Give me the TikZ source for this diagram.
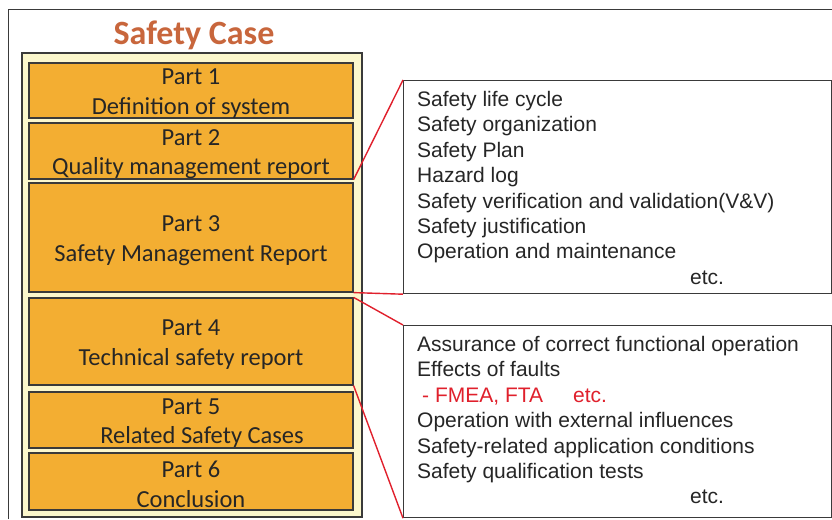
\documentclass[tikz,border=0pt]{standalone}
\usepackage{fontspec}
\setmainfont{Carlito}
\newfontfamily\arialfont{Liberation Sans}
\usepackage{xcolor}
\definecolor{partorange}{HTML}{F3AE32}
\definecolor{casecream}{HTML}{FBF7CC}
\definecolor{titlebrown}{HTML}{C8663C}
\definecolor{linkred}{HTML}{E0202C}
\definecolor{framegray}{HTML}{3A3A3A}
\tikzset{partbox/.style={draw=framegray,line width=1.2pt,fill=partorange,minimum width=324pt,inner sep=0pt},
 parttext/.style={align=center,font=\fontsize{24.5pt}{29.5pt}\selectfont,text=black!85,inner sep=0pt},
 caseframe/.style={draw=framegray,line width=2pt,fill=casecream,minimum width=340pt,minimum height=464pt},
 detailbox/.style={draw=framegray,line width=1.2pt,fill=white,minimum width=428pt,anchor=north west},
 detailtext/.style={align=left,anchor=north west,inner sep=0pt,text=black!85,
  font=\arialfont\fontsize{21pt}{25.4pt}\selectfont},
 link/.style={draw=linkred,line width=1.4pt},
 }

\begin{document}
\begin{tikzpicture}[x=1pt,y=-1pt]
        \useasboundingbox (0,0) rectangle (832,519);
        \draw[framegray,line width=1pt] (8,519) -- (8,10) -- (832,10);
        \node[font=\bfseries\fontsize{34pt}{34pt}\selectfont,text=titlebrown] (title) at (194,35) {Safety Case};
        \node[caseframe] (case) at (192,285) {};
        \foreach \n/\y/\h/\txt in {1/90.5/55/{Part 1\\Definition of system},
                2/151/56/{Part 2\\Quality management report},
                3/237.5/109/{Part 3\\Safety Management Report},
                4/341.5/87/{Part 4\\Technical safety report},
                5/420/56/{Part 5\\\hspace*{0.9em}Related Safety Cases},
                6/481.5/57/{Part 6\\Conclusion}} {
            \node[partbox,minimum height=\h pt] (part\n) at (191,\y) {};
            \node[parttext] (label\n) at ([yshift=-3pt]part\n.center) {\txt};
        }
        \node[detailbox,minimum height=213pt] (det1) at (403,80) {};
        \node[detailbox,minimum height=192pt] (det2) at (403,325) {};
        \node[detailtext] (list1) at (417,91) {Safety life cycle\\Safety organization\\Safety Plan\\Hazard log\\
            Safety verification and validation(V\&V)\\Safety justification\\Operation and maintenance\\
            \hspace*{273pt}etc.};
        \node[detailtext] (list2) at (417,336) {Assurance of correct functional operation\\Effects of faults\\
            \hspace*{5pt}{\color{linkred}- FMEA, FTA\hspace*{30pt}etc.}\\Operation with external influences\\
            Safety-related application conditions\\Safety qualification tests\\
            \hspace*{273pt}etc.};
        % red links to the detail boxes
        \draw[link] (part2.south east) -- (det1.north west);
        \draw[link] (part3.south east) -- (det1.south west);
        \draw[link] (part4.north east) -- (det2.north west);
        \draw[link] (part4.south east) -- (det2.south west);
    \end{tikzpicture}
\end{document}
